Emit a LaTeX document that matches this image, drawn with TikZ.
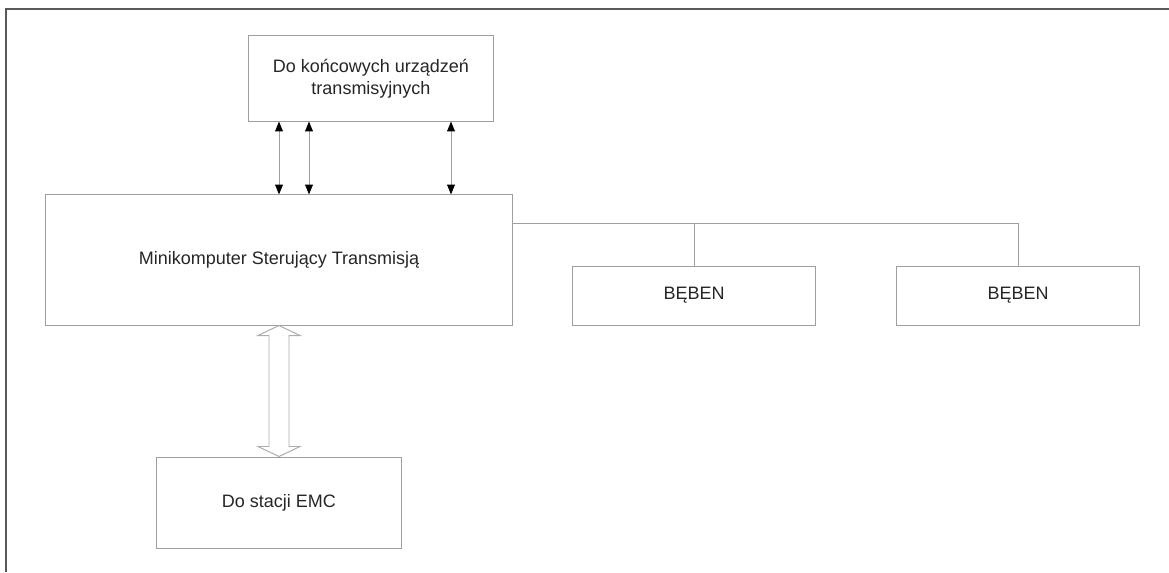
\documentclass[tikz,border=0pt]{standalone}
\usepackage{fontspec}
\setmainfont{Liberation Sans}
\usetikzlibrary{arrows.meta,calc,positioning}

\begin{document}
\begin{tikzpicture}[x=0.025cm,y=-0.025cm,
    box/.style={draw=gray!75,line width=0.7pt,fill=white,inner sep=0pt,align=center,
      text=black!85,font=\fontsize{12.8}{15.6}\selectfont},
    wire/.style={draw=gray!75,line width=0.7pt},
    link/.style={gray!75,line width=0.7pt,
      {Triangle[width=5.5pt,length=7pt,black]}-{Triangle[width=5.5pt,length=7pt,black]}},
    hollow/.style={draw=gray!65,line width=0.7pt,fill=white}]
  \useasboundingbox (0,0) rectangle (1169,572);
  % frame
  \draw[black!65,line width=1.4pt] (1169,9) -- (6,9) -- (6,572);

  % boxes
  \node[box,minimum width=6.1cm,minimum height=2.125cm] (dev) at (371,78.5) {Do końcowych urządzeń\\transmisyjnych};
  \node[box,minimum width=11.65cm,minimum height=3.25cm] (mini) at (279,260) {Minikomputer Sterujący Transmisją};
  \node[box,minimum width=6.05cm,minimum height=1.475cm] (drum1) at (694,295.5) {BĘBEN};
  \node[box,minimum width=6.05cm,minimum height=1.475cm] (drum2) at (1018,295.5) {BĘBEN};
  \node[box,minimum width=6.1cm,minimum height=2.275cm] (emc) at (279,502.5) {Do stacji EMC};

  % lines to the end devices
  \foreach \x in {279,309,451} {
    \draw[link] (\x,0 |- dev.south) -- (\x,0 |- mini.north);
  }

  % bus to the drums
  \draw[wire] (mini.east |- 0,223) -| (drum2.north);
  \draw[wire] (drum1.north) -- (drum1.north |- 0,223);

  % wide arrow to EMC
  \draw[hollow] (mini.south) -- ++(21,10) -- ++(-11,0) -- ($(emc.north)+(10,-10)$)
    -- ++(11,0) -- (emc.north) -- ++(-21,-10) -- ++(11,0)
    -- ($(mini.south)+(-10,10)$) -- ++(-11,0) -- cycle;
\end{tikzpicture}
\end{document}
